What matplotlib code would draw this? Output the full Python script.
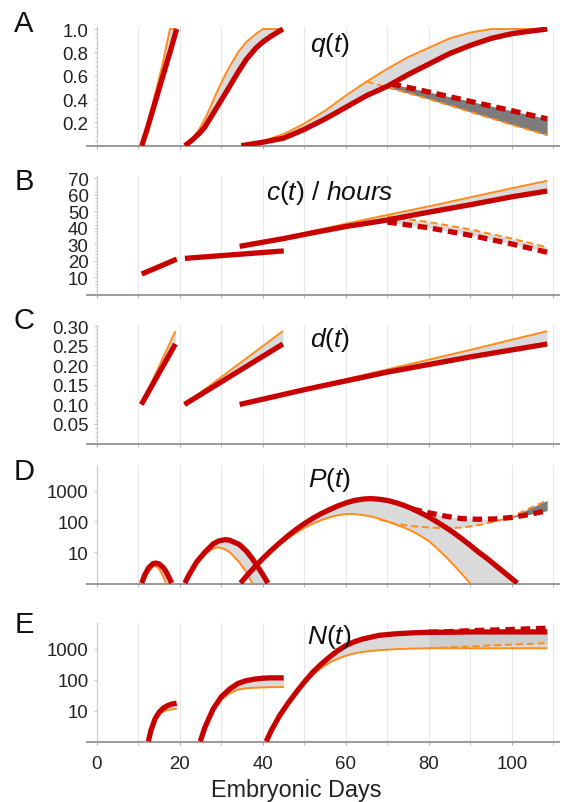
import numpy as np
import matplotlib
matplotlib.use("Agg")
import matplotlib.pyplot as plt
from matplotlib.ticker import MultipleLocator, FixedLocator, NullFormatter

plt.rcParams['font.family'] = ['Liberation Sans', 'DejaVu Sans']
plt.rcParams['mathtext.fontset'] = 'custom'
plt.rcParams['mathtext.it'] = 'Liberation Sans:italic'
plt.rcParams['mathtext.rm'] = 'Liberation Sans'

RED = '#c80000'
ORANGE = '#ff8c1a'
FILL = '#dadada'
DARK = '#7c7c7c'

# ---- A: q(t) ----
qa_days1 = [10.8, 12, 13, 14, 15, 16, 17, 17.6, 18, 19.2]
qa_red1 = [0, 0.13, 0.25, 0.37, 0.49, 0.61, 0.73, 0.80, 0.85, 1.0]
qa_org1 = [0, 0.16, 0.30, 0.44, 0.58, 0.73, 0.90, 1.0, 1.0, 1.0]
qa_days2 = [21.2, 23, 24.8, 26, 27.2, 28.4, 29.6, 30.8, 32, 34, 36, 38.4, 40, 42, 44.8]
qa_red2 = [0, 0.05, 0.11, 0.16, 0.23, 0.30, 0.37, 0.44, 0.51, 0.63, 0.74, 0.84, 0.89, 0.94, 1.0]
qa_org2 = [0, 0.06, 0.15, 0.23, 0.32, 0.42, 0.51, 0.60, 0.68, 0.80, 0.89, 0.96, 1.0, 1.0, 1.0]
qa_days3 = [34.8, 40, 45, 50, 55, 60, 65, 70, 75, 80, 85, 90, 95, 100, 104, 108.5]
qa_red3 = [0, 0.03, 0.065, 0.14, 0.23, 0.33, 0.43, 0.51, 0.61, 0.70, 0.79, 0.86, 0.92, 0.96, 0.98, 1.0]
qa_org3 = [0, 0.04, 0.10, 0.19, 0.30, 0.43, 0.55, 0.66, 0.76, 0.84, 0.92, 0.97, 1.0, 1.0, 1.0, 1.0]
qa_days_d = [65, 71, 80, 90, 100, 108.5]
qa_red_d = [np.nan, 0.53, 0.46, 0.38, 0.30, 0.23]
qa_org_d = [0.55, 0.49, 0.40, 0.29, 0.18, 0.09]

# ---- B: c(t) / hours ----
cb_days1 = [10.8, 19.2]
cb_red1 = [12, 21]
cb_org1 = [12, 21.8]
cb_days2 = [21.2, 45]
cb_red2 = [21.5, 26]
cb_org2 = [21.5, 26]
cb_days3 = [34.4, 45, 52, 60, 69, 80, 90, 100, 108.5]
cb_red3 = [28.8, 33.5, 37, 40.8, 44.3, 49.5, 54, 58.8, 62.3]
cb_org3 = [28.8, 34, 38, 42.5, 47.3, 53, 58.5, 64, 68.5]
cb_days_d = [70, 80, 90, 100, 108.5]
cb_red_d = [43.5, 40, 35.5, 30.2, 25.2]
cb_org_d = [46.8, 43.5, 39, 33.5, 28.2]

# ---- C: d(t) ----
dc_days1 = [10.7, 18.9]
dc_red1 = [0.10, 0.255]
dc_org1 = [0.10, 0.288]
dc_days2 = [21.1, 44.8]
dc_red2 = [0.10, 0.255]
dc_org2 = [0.10, 0.288]
dc_days3 = [34.4, 50, 70, 90, 108.5]
dc_red3 = [0.10, 0.138, 0.183, 0.222, 0.255]
dc_org3 = [0.10, 0.14, 0.19, 0.24, 0.288]

# ---- D: P(t), log10 values ----
pd_days1 = [10.8, 11.5, 12.5, 13.5, 14.2, 15, 16, 16.6, 17, 18]
pd_red1 = [0, 0.26, 0.5, 0.63, 0.65, 0.62, 0.5, 0.38, 0.28, 0]
pd_org1 = [0, 0.12, 0.39, 0.54, 0.55, 0.46, 0.21, 0, -0.2, -0.6]
pd_days2 = [21.2, 22, 23, 24, 26, 28, 29.2, 30.8, 32, 34, 34.4, 36, 37.4, 38, 40, 41.2]
pd_red2 = [0, 0.22, 0.45, 0.68, 1.0, 1.27, 1.36, 1.41, 1.39, 1.27, 1.24, 1.04, 0.80, 0.68, 0.27, 0]
pd_org2 = [0, 0.2, 0.42, 0.62, 0.93, 1.12, 1.16, 1.1, 1.0, 0.72, 0.66, 0.35, 0, -0.15, -0.7, -1.0]
pd_days3 = [34.6, 36, 38, 40, 42, 44, 46, 48, 50, 52, 54, 56, 58, 60, 62, 64.4, 66, 68, 70,
            72, 74, 76, 78, 80, 82, 84, 86, 88, 90, 92, 94, 96, 98, 100, 101.3]
pd_red3 = [0, 0.22, 0.52, 0.8, 1.06, 1.3, 1.53, 1.74, 1.93, 2.1, 2.25, 2.38, 2.5, 2.6, 2.68,
           2.73, 2.74, 2.72, 2.68, 2.61, 2.52, 2.41, 2.28, 2.14, 1.98, 1.81, 1.63, 1.43, 1.22,
           1.0, 0.8, 0.58, 0.36, 0.14, 0]
pd_org3 = [0, 0.21, 0.5, 0.77, 1.02, 1.25, 1.45, 1.63, 1.79, 1.93, 2.04, 2.13, 2.2, 2.24, 2.24,
           2.2, 2.16, 2.09, 2.0, 1.9, 1.8, 1.68, 1.53, 1.36, 1.12, 0.86, 0.58, 0.29, -0.02,
           -0.35, -0.7, -1.05, -1.4, -1.75, -2.0]
pd_days_d = [68, 72, 76, 80, 84, 88, 92, 96, 100, 104, 108.5]
pd_red_d = [np.nan, np.nan, 2.40, 2.28, 2.17, 2.09, 2.07, 2.08, 2.13, 2.22, 2.35]
pd_org_d = [2.06, 1.92, 1.85, 1.80, 1.78, 1.80, 1.88, 2.00, 2.15, 2.41, 2.68]

# ---- E: N(t), log10 values ----
ne_days1 = [12.4, 13, 14, 15, 16, 17, 18, 19.2]
ne_red1 = [0, 0.35, 0.73, 0.95, 1.08, 1.16, 1.21, 1.24]
ne_org1 = [0, 0.33, 0.68, 0.87, 0.97, 1.02, 1.04, 1.05]
ne_days2 = [24.9, 26, 28, 30, 32, 34, 36, 38, 40, 42, 45]
ne_red2 = [0, 0.45, 1.05, 1.45, 1.70, 1.88, 1.97, 2.02, 2.05, 2.06, 2.06]
ne_org2 = [0, 0.44, 1.0, 1.35, 1.57, 1.68, 1.72, 1.74, 1.75, 1.76, 1.76]
ne_days3 = [40.8, 42, 44, 46, 48, 50, 52, 54, 56, 58, 60, 62, 64, 68, 72, 76, 80, 85, 90,
            95, 100, 104, 108.5]
ne_red3 = [0, 0.35, 0.83, 1.23, 1.59, 1.93, 2.24, 2.5, 2.73, 2.94, 3.11, 3.23, 3.32, 3.44,
           3.49, 3.52, 3.54, 3.54, 3.55, 3.55, 3.55, 3.55, 3.55]
ne_org3 = [0, 0.35, 0.82, 1.21, 1.55, 1.87, 2.15, 2.38, 2.55, 2.68, 2.78, 2.85, 2.9, 2.96,
           2.99, 3.01, 3.02, 3.02, 3.02, 3.02, 3.02, 3.02, 3.02]
ne_days_d = [80, 85, 90, 95, 100, 104, 108.5]
ne_red_d = [3.54, 3.56, 3.59, 3.61, 3.63, 3.65, 3.67]
ne_org_d = [3.02, 3.05, 3.08, 3.11, 3.14, 3.16, 3.19]

x_ticks = [0, 20, 40, 60, 80, 100]
panel_letters = ['A', 'B', 'C', 'D', 'E']
titles = [r'$q(t)$', r'$c(t)$ / $hours$', r'$d(t)$', r'$P(t)$', r'$N(t)$']


def seg(ax, days, red, org, fill=FILL, log=False):
    days = np.asarray(days, float)
    red = np.asarray(red, float)
    org = np.asarray(org, float)
    if log:
        red, org = 10 ** red, 10 ** org
    ax.fill_between(days, red, org, color=fill, lw=0, zorder=1)
    ax.plot(days, org, color=ORANGE, lw=1.4, zorder=3, solid_capstyle='butt',
            solid_joinstyle='round')
    ax.plot(days, red, color=RED, lw=3.8, zorder=4, solid_capstyle='butt',
            solid_joinstyle='round')


def dashed(ax, days, red, org, log=False, light=FILL, dark=DARK):
    days = np.asarray(days, float)
    red = np.asarray(red, float)
    org = np.asarray(org, float)
    if log:
        red, org = 10 ** red, 10 ** org
    ok = ~np.isnan(red)
    ax.fill_between(days, red, org, where=ok & (red >= org), color=light,
                    lw=0, zorder=1.5, interpolate=True)
    ax.fill_between(days, red, org, where=ok & (org > red), color=dark,
                    lw=0, zorder=1.5, interpolate=True)
    ax.plot(days, org, color=ORANGE, lw=1.4, ls=(0, (3.6, 2.0)), zorder=3)
    ax.plot(days, red, color=RED, lw=3.8, ls=(0, (1.8, 1.1)), zorder=4)


fig = plt.figure(figsize=(5.62, 8.03), dpi=100)
left, width, height = 87.4 / 562, 471.4 / 562, 119 / 803
bottoms = [146.7, 296, 444.5, 585, 743.3]
letter_y = [24, 182, 321, 472, 625]
title_y = [0.855, 0.863, 0.878, 0.88, 0.89]
axes = []
for i in range(5):
    ax = fig.add_axes([left, 1 - bottoms[i] / 803, width, height])
    axes.append(ax)
    ax.set_xlim(-2.3, 111.3)
    for s in ['top', 'right']:
        ax.spines[s].set_visible(False)
    ax.spines['left'].set_position(('data', 0))
    ax.spines['left'].set_color('#c8c8c8')
    ax.spines['left'].set_linewidth(0.8)
    ax.spines['bottom'].set_color('#9a9a9a')
    ax.spines['bottom'].set_linewidth(1.4)
    ax.xaxis.set_major_locator(FixedLocator(x_ticks))
    ax.xaxis.set_minor_locator(MultipleLocator(10))
    ax.grid(axis='x', which='both', color='#e8e8e8', lw=0.8, zorder=0)
    ax.set_axisbelow(True)
    ax.tick_params(axis='x', which='both', color='#b0b0b0', length=2.5,
                   labelsize=13.4, pad=7, labelcolor='#222222')
    ax.tick_params(axis='y', which='major', color='#c8c8c8', length=2,
                   labelsize=13.4, pad=4, labelcolor='#222222')
    ax.tick_params(axis='y', which='minor', color='#c8c8c8', length=1.5)
    if i < 4:
        ax.tick_params(axis='x', labelbottom=False)
    fig.text(24 / 562, 1 - letter_y[i] / 803, panel_letters[i], fontsize=21,
             ha='center', va='center', color='#111111')
    ax.text(0.514, title_y[i], titles[i], transform=ax.transAxes, fontsize=19,
            ha='center', va='center', color='#111111', zorder=6)

# A
ax = axes[0]
seg(ax, qa_days1, qa_red1, qa_org1)
seg(ax, qa_days2, qa_red2, qa_org2)
seg(ax, qa_days3, qa_red3, qa_org3)
dashed(ax, qa_days_d, qa_red_d, qa_org_d, light=DARK)
ax.set_ylim(0, 1.02)
ax.set_yticks([0.2, 0.4, 0.6, 0.8, 1.0])
ax.set_yticklabels(['0.2', '0.4', '0.6', '0.8', '1.0'])
ax.yaxis.set_minor_locator(MultipleLocator(0.04))

# B
ax = axes[1]
seg(ax, cb_days1, cb_red1, cb_org1)
seg(ax, cb_days2, cb_red2, cb_org2)
seg(ax, cb_days3, cb_red3, cb_org3)
dashed(ax, cb_days_d, cb_red_d, cb_org_d, dark=FILL)
ax.set_ylim(-0.7, 71.4)
ax.set_yticks([10, 20, 30, 40, 50, 60, 70])
ax.yaxis.set_minor_locator(MultipleLocator(2))

# C
ax = axes[2]
seg(ax, dc_days1, dc_red1, dc_org1)
seg(ax, dc_days2, dc_red2, dc_org2)
seg(ax, dc_days3, dc_red3, dc_org3)
ax.set_ylim(0, 0.305)
ax.set_yticks([0.05, 0.10, 0.15, 0.20, 0.25, 0.30])
ax.set_yticklabels(['0.05', '0.10', '0.15', '0.20', '0.25', '0.30'])
ax.yaxis.set_minor_locator(MultipleLocator(0.01))

# D and E (log)
for ax, parts in [(axes[3], [(pd_days1, pd_red1, pd_org1), (pd_days2, pd_red2, pd_org2),
                             (pd_days3, pd_red3, pd_org3)]),
                  (axes[4], [(ne_days1, ne_red1, ne_org1), (ne_days2, ne_red2, ne_org2),
                             (ne_days3, ne_red3, ne_org3)])]:
    ax.set_yscale('log')
    for d, r, o in parts:
        seg(ax, d, r, o, log=True)
    ax.set_ylim(10 ** -0.03, 10 ** 3.83)
    ax.set_yticks([10, 100, 1000])
    ax.set_yticklabels(['10', '100', '1000'])
    ax.yaxis.set_minor_formatter(NullFormatter())

dashed(axes[3], pd_days_d, pd_red_d, pd_org_d, log=True)
dashed(axes[4], ne_days_d, ne_red_d, ne_org_d, log=True, light='#cdcdcd')

fig.text(296.7 / 562, 1 - 797 / 803, 'Embryonic Days', fontsize=16.8,
         ha='center', va='baseline', color='#222222')

fig.savefig('out.png', dpi=100)
